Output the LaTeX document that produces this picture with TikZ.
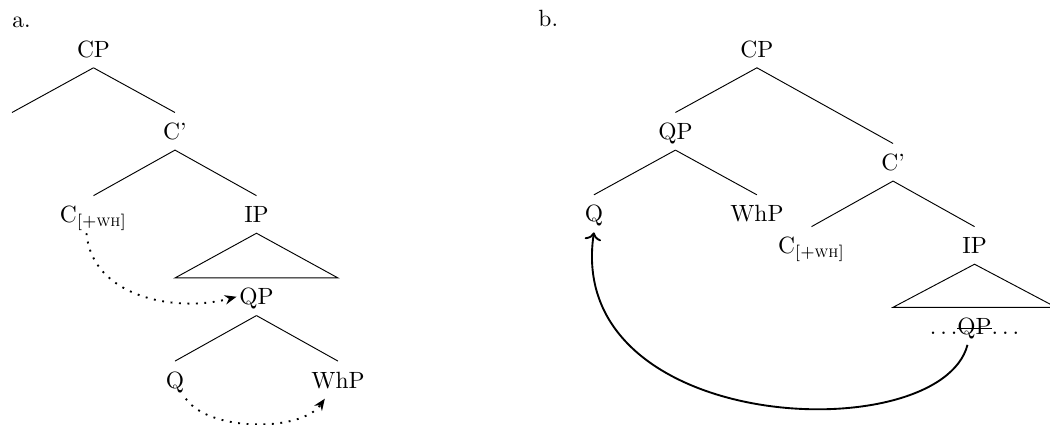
\documentclass[tikz,border=0pt]{standalone}
\usepackage{amsmath}
\usetikzlibrary{arrows.meta,calc}

\newcommand\struck[1]{\setbox0\hbox{#1}\rlap{\rule[0.5ex]{\wd0}{0.6pt}}\box0}

\begin{document}
\begin{tikzpicture}[x=1.219cm, y=1.219cm,
        cat/.style={inner xsep=1pt, inner ysep=4.3pt, text height=7pt, text depth=0pt},
        move/.style={line width=0.8pt, dash pattern=on 0.8pt off 2.8pt,
            -{Stealth[length=5pt,width=4pt]}}]
    \useasboundingbox (-0.147,0.601) rectangle (12.736,-4.613);

    % a.
    \node[anchor=base west, inner sep=0pt] (labA) at (0,0.258) {a.};
    \node[cat] (cpA)   at (1,0)     {CP};
    \node[cat] (cbarA) at (2,-1.01) {C'};
    \node[cat] (cA)    at (1,-2.03) {C$_{[+\textsc{wh}]}$};
    \node[cat] (ipA)   at (3,-2.03) {IP};
    \node[cat] (qpA)   at (3,-3.04) {QP};
    \node[cat] (qA)    at (2,-4.06) {Q};
    \node[cat] (whpA)  at (4,-4.06) {WhP};
    \coordinate (specA) at ($(cbarA.north)+(-2,0)$);

    \draw (cpA.south) -- (specA);
    \draw (cpA.south) -- (cbarA.north);
    \draw (cbarA.south) -- (cA.north);
    \draw (cbarA.south) -- (ipA.north);
    \draw (ipA.south) -- ($(qpA.north)+(-1,0)$) -- ($(qpA.north)+(1,0)$) -- cycle;
    \draw (qpA.south) -- (qA.north);
    \draw (qpA.south) -- (whpA.north);

    \draw[move] ([xshift=-3pt]cA.south) to[out=-85,in=195] (qpA.west);
    \draw[move] (qA.-60) to[out=-55,in=-125,looseness=0.75] (whpA.-125);

    % b.
    \node[anchor=base west, inner sep=0pt] (labB) at (6.454,0.27) {b.};
    \node[cat] (cpB)   at (9.14,0)      {CP};
    \node[cat] (qpB)   at (8.14,-1.01)  {QP};
    \node[cat] (qB)    at (7.14,-2.02)  {Q};
    \node[cat] (whpB)  at (9.14,-2.02)  {WhP};
    \node[cat] (cbarB) at (10.81,-1.39) {C'};
    \node[cat] (cB)    at (9.81,-2.41)  {C$_{[+\textsc{wh}]}$};
    \node[cat] (ipB)   at (11.81,-2.41) {IP};
    \node[cat] (qpx)   at (11.81,-3.40) {$\ldots$\struck{QP}$\ldots$};

    \draw (cpB.south) -- (qpB.north);
    \draw (cpB.south) -- (cbarB.north);
    \draw (qpB.south) -- (qB.north);
    \draw (qpB.south) -- (whpB.north);
    \draw (cbarB.south) -- (cB.north);
    \draw (cbarB.south) -- (ipB.north);
    \draw (ipB.south) -- ($(qpx.north)+(-1,0)$) -- ($(qpx.north)+(1,0)$) -- cycle;

    \draw[thick,->] ([xshift=-3pt]qpx.south) .. controls +(-0.34,-1.29) and +(-0.37,-2.49) .. (qB.south);
\end{tikzpicture}
\end{document}
